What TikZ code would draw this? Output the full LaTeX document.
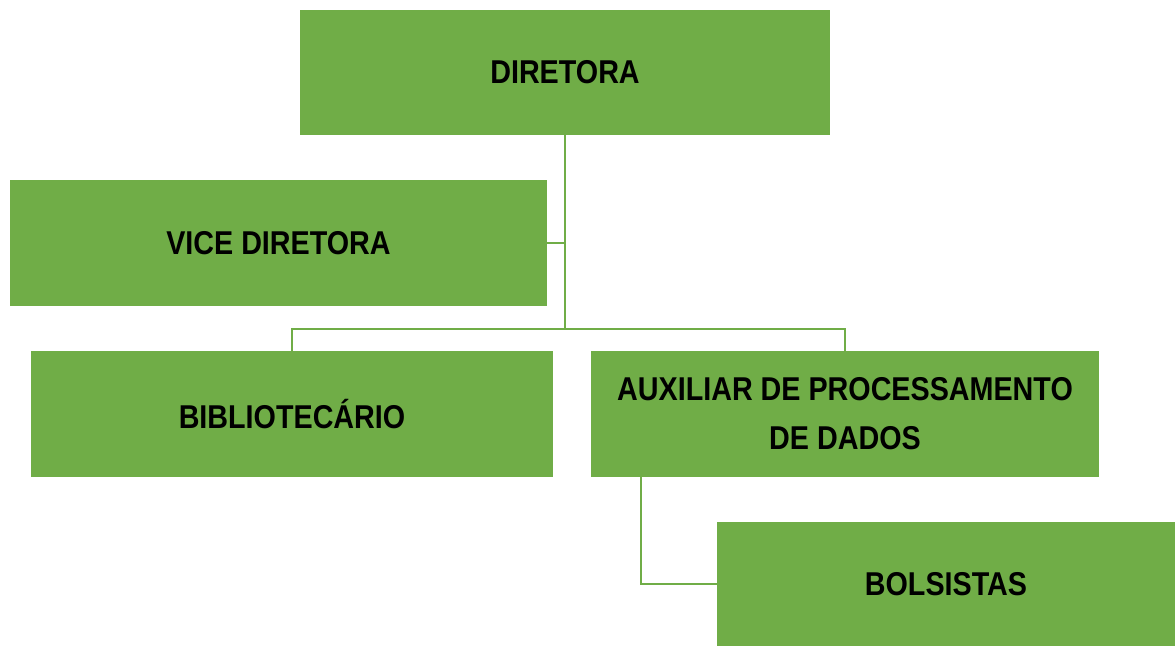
\documentclass[tikz,border=0pt]{standalone}
\usepackage{fontspec}
\setmainfont[FakeStretch=0.87]{Liberation Sans}
\definecolor{boxgreen}{HTML}{70AD47}
\tikzset{
  orgbox/.style={fill=boxgreen, draw=none, inner sep=0pt, align=center,
    font=\bfseries\fontsize{33}{49}\selectfont, text=black},
  orgline/.style={draw=boxgreen, line width=2pt}
}
\begin{document}
\begin{tikzpicture}[x=1pt,y=-1pt]
\useasboundingbox (0,0) rectangle (1175,646);
\node[orgbox, minimum width=530pt, minimum height=125pt] (dir) at (565,72.5) {DIRETORA};
\node[orgbox, minimum width=537pt, minimum height=126pt] (vice) at (278.5,243) {VICE DIRETORA};
\node[orgbox, minimum width=522pt, minimum height=126pt] (bib) at (292,414) {BIBLIOTEC\'ARIO};
\node[orgbox, minimum width=508pt, minimum height=126pt] (aux) at (845,414) {AUXILIAR DE PROCESSAMENTO\\DE DADOS};
\node[orgbox, minimum width=458pt, minimum height=124pt] (bol) at (946,584) {BOLSISTAS};
\coordinate (hub) at (565,329);
\draw[orgline] (dir.south) -- (hub);
\draw[orgline] (vice.east) -- (vice.east -| hub);
\draw[orgline] (bib.north) |- (hub) -| (aux.north);
\coordinate (auxfoot) at ([xshift=50pt]aux.south west);
\draw[orgline] (auxfoot) |- (bol.west);
\end{tikzpicture}
\end{document}
